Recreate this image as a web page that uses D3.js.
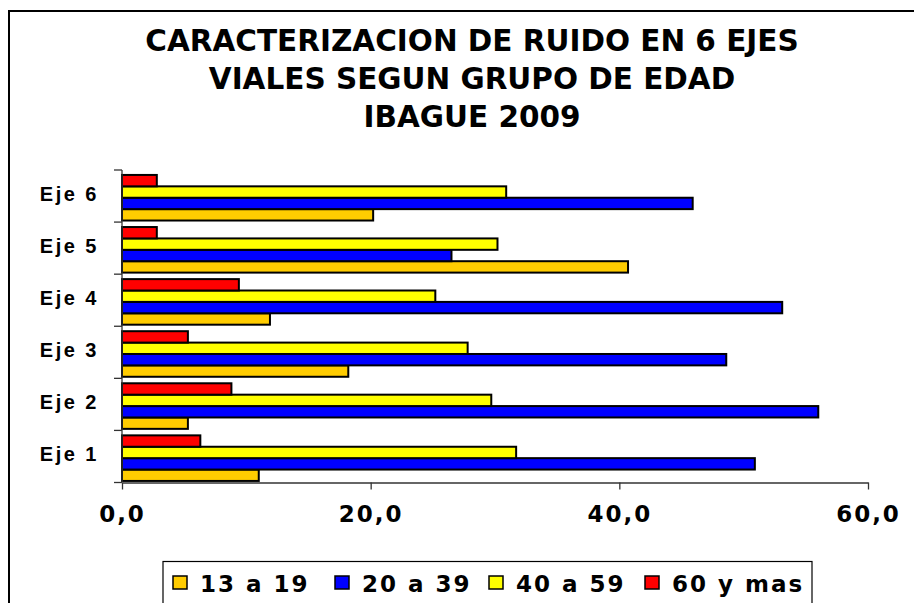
<!DOCTYPE html>
<html>
<head>
<meta charset="utf-8">
<script src="https://cdn.jsdelivr.net/npm/d3@7"></script>
<style>
  body { margin: 0; background: #fff; }
  svg { display: block; }
</style>
</head>
<body>
<svg id="chart" width="914" height="603"></svg>
<script>
// Chart data
const ejes = ["Eje 1", "Eje 2", "Eje 3", "Eje 4", "Eje 5", "Eje 6"];
const edad13a19 = [11.0, 5.3, 18.2, 11.9, 40.7, 20.2];
const edad20a39 = [50.9, 56.0, 48.6, 53.1, 26.5, 45.9];
const edad40a59 = [31.7, 29.7, 27.8, 25.2, 30.2, 30.9];
const edad60mas = [6.3, 8.8, 5.3, 9.4, 2.8, 2.8];
const seriesNames = ["13 a 19", "20 a 39", "40 a 59", "60 y mas"];
const seriesColors = ["#FFCC00", "#0000FF", "#FFFF00", "#FF0000"];
const xTicks = [0, 20, 40, 60];
const titleLines = [
  "CARACTERIZACION DE RUIDO EN 6 EJES",
  "VIALES SEGUN GRUPO DE EDAD",
  "IBAGUE 2009",
];

const series = [edad13a19, edad20a39, edad40a59, edad60mas];

const svg = d3.select("#chart");
const plot = { left: 122, right: 868, top: 170, bottom: 482.5 };

// outer frame (right/bottom edges fall outside the picture)
svg
  .append("rect")
  .attr("x", 9)
  .attr("y", 11)
  .attr("width", 940)
  .attr("height", 640)
  .attr("fill", "#fff")
  .attr("stroke", "#000")
  .attr("stroke-width", 2);

// title
svg
  .append("g")
  .selectAll("text")
  .data(titleLines)
  .enter()
  .append("text")
  .attr("x", 472)
  .attr("y", (d, i) => 51 + i * 38)
  .attr("text-anchor", "middle")
  .attr("font-family", "DejaVu Sans, Verdana, sans-serif")
  .attr("font-weight", "bold")
  .attr("font-size", 29.5)
  .text((d) => d);

// scales
const x = d3.scaleLinear().domain([0, 60]).range([plot.left, plot.right]);

const y0 = d3
  .scaleBand()
  .domain(ejes)
  .range([plot.bottom, plot.top]);

const bw = y0.bandwidth();
// top of group = 60 y mas, bottom = 13 a 19
const y1 = d3
  .scaleBand()
  .domain([3, 2, 1, 0])
  .range([bw * 0.095, bw * 0.97]);

// bars
const groups = svg
  .append("g")
  .selectAll("g")
  .data(ejes)
  .enter()
  .append("g")
  .attr("transform", (d) => `translate(0,${y0(d)})`);

groups
  .selectAll("rect")
  .data((d, i) => series.map((s, k) => ({ k: k, v: s[i] })))
  .enter()
  .append("rect")
  .attr("x", x(0))
  .attr("y", (d) => y1(d.k))
  .attr("width", (d) => x(d.v) - x(0))
  .attr("height", y1.bandwidth())
  .attr("fill", (d) => seriesColors[d.k])
  .attr("stroke", "#000")
  .attr("stroke-width", 2);

// x axis
const xAxis = svg
  .append("g")
  .attr("transform", `translate(0,${plot.bottom})`)
  .call(d3.axisBottom(x).tickValues(xTicks).tickSizeInner(7).tickSizeOuter(0).tickPadding(16)
    .tickFormat((d) => d3.format(".1f")(d).replace(".", ",")));
xAxis.select(".domain").attr("stroke", "#333").attr("stroke-width", 1.3);
xAxis.selectAll(".tick line").attr("stroke", "#333").attr("stroke-width", 1.3);
xAxis
  .selectAll("text")
  .attr("font-family", "DejaVu Sans, Verdana, sans-serif")
  .attr("font-weight", "bold")
  .attr("font-size", 23)
  .attr("letter-spacing", 2)
  .attr("fill", "#000");

// y axis: ticks on category boundaries
const yAxis = svg.append("g");
yAxis
  .append("line")
  .attr("x1", plot.left)
  .attr("x2", plot.left)
  .attr("y1", plot.top)
  .attr("y2", plot.bottom)
  .attr("stroke", "#333")
  .attr("stroke-width", 1.3);
yAxis
  .selectAll(".btick")
  .data(d3.range(ejes.length + 1))
  .enter()
  .append("line")
  .attr("x1", plot.left - 8)
  .attr("x2", plot.left)
  .attr("y1", (i) => plot.bottom - i * bw)
  .attr("y2", (i) => plot.bottom - i * bw)
  .attr("stroke", "#333")
  .attr("stroke-width", 1.3);
yAxis
  .selectAll("text")
  .data(ejes)
  .enter()
  .append("text")
  .attr("x", 99)
  .attr("y", (d) => y0(d) + bw / 2 + 5)
  .attr("text-anchor", "end")
  .attr("font-family", "Liberation Sans, Arial, sans-serif")
  .attr("font-weight", "bold")
  .attr("font-size", 20)
  .attr("letter-spacing", 2.5)
  .text((d) => d);

// legend
const legend = svg.append("g");
legend
  .append("rect")
  .attr("x", 163)
  .attr("y", 561.5)
  .attr("width", 649)
  .attr("height", 60)
  .attr("fill", "#fff")
  .attr("stroke", "#000")
  .attr("stroke-width", 1.2);

const legendX = [173, 335, 489, 645];
const items = legend
  .selectAll(".item")
  .data(seriesNames)
  .enter()
  .append("g")
  .attr("transform", (d, i) => `translate(${legendX[i]},0)`);
items
  .append("rect")
  .attr("x", 0)
  .attr("y", 576)
  .attr("width", 14)
  .attr("height", 13)
  .attr("fill", (d, i) => seriesColors[i])
  .attr("stroke", "#000")
  .attr("stroke-width", 1.5);
items
  .append("text")
  .attr("x", 27)
  .attr("y", 591.5)
  .attr("font-family", "DejaVu Sans, Verdana, sans-serif")
  .attr("font-weight", "bold")
  .attr("font-size", 23)
  .attr("letter-spacing", 2)
  .text((d) => d);
</script>
</body>
</html>
